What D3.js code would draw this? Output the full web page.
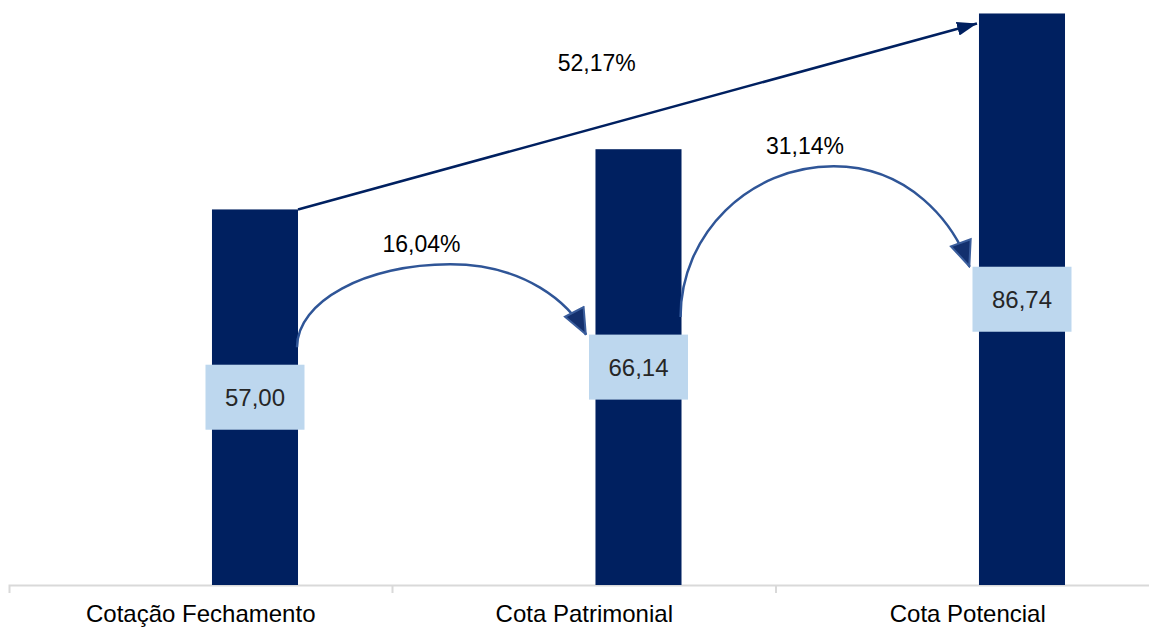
<!DOCTYPE html>
<html>
<head>
<meta charset="utf-8">
<script src="https://cdn.jsdelivr.net/npm/d3@7"></script>
<style>
body{margin:0;background:#fff;}
text{font-family:"Liberation Sans",Arial,sans-serif;}
</style>
</head>
<body>
<svg id="chart"></svg>
<script>
// dados
var categorias=["Cotação Fechamento","Cota Patrimonial","Cota Potencial"]
var valores=[57.00,66.14,86.74]
var rotulos=["57,00","66,14","86,74"]
// variacoes entre as barras
var varDe=[0,1,0]
var varPara=[1,2,2]
var varRotulo=["16,04%","31,14%","52,17%"]

var screen={width:1149,height:627}
var margins={left:9,right:-10.5,top:-8,bottom:42}
var graph={
    width:screen.width-margins.left-margins.right,
    height:screen.height-margins.top-margins.bottom}

var svg=d3.select("#chart")
    .attr("width",screen.width)
    .attr("height",screen.height)

var xScale=d3.scaleBand()
    .domain(categorias)
    .range([margins.left,margins.left+graph.width])
    .padding(0)
// serie vazia a esquerda, como no excel
var xSerie=d3.scaleBand()
    .domain(["vazio","valor"])
    .range([0,xScale.bandwidth()])
    .paddingInner(0.207)
    .paddingOuter(0.871)
var yScale=d3.scaleLinear()
    .domain([0,90])
    .range([margins.top+graph.height,margins.top])

var base=yScale(0)
var barLeft=function(i){return xScale(categorias[i])+xSerie("valor")}
var barRight=function(i){return barLeft(i)+xSerie.bandwidth()}
var barCenter=function(i){return barLeft(i)+xSerie.bandwidth()/2}
var barTop=function(i){return yScale(valores[i])}
var barMid=function(i){return (yScale(valores[i])+base)/2}
var box={w:99,h:65}

// marcadores
var defs=svg.append("defs")
defs.append("marker")
    .attr("id","setaReta")
    .attr("viewBox","0 0 20 14")
    .attr("refX",20).attr("refY",7)
    .attr("markerWidth",20).attr("markerHeight",14)
    .attr("markerUnits","userSpaceOnUse")
    .attr("orient","auto")
    .append("path")
    .attr("d","M0,0L20,7L0,14Z")
    .attr("fill","#002060")
defs.append("marker")
    .attr("id","setaCurva")
    .attr("viewBox","0 0 28 24")
    .attr("refX",27).attr("refY",12)
    .attr("markerWidth",28).attr("markerHeight",24)
    .attr("markerUnits","userSpaceOnUse")
    .attr("orient","auto")
    .append("path")
    .attr("d","M1.5,1.5L26.5,12L1.5,22.5Z")
    .attr("fill","#13306e")
    .attr("stroke","#3a5d9c")
    .attr("stroke-width",2)

// eixo
var xAxis=d3.axisBottom(xScale).tickSize(0).tickSizeOuter(8)
var eixo=svg.append("g")
    .attr("transform","translate(0,"+base+")")
    .call(xAxis)
eixo.select(".domain").attr("stroke","#d9d9d9").attr("stroke-width",2)
eixo.selectAll("text")
    .attr("y",37).attr("dy",0)
    .attr("font-size",24)
    .attr("fill","#000")
    .style("font-family","'Liberation Sans',Arial,sans-serif")
eixo.selectAll(".divisor")
    .data(categorias.slice(1))
    .enter()
    .append("line")
    .classed("divisor",true)
    .attr("x1",function(c){return xScale(c)})
    .attr("x2",function(c){return xScale(c)})
    .attr("y1",0).attr("y2",8)
    .attr("stroke","#d9d9d9").attr("stroke-width",2)

// barras
svg.append("g")
    .selectAll("rect")
    .data(valores)
    .enter()
    .append("rect")
    .attr("x",function(v,i){return barLeft(i)})
    .attr("y",function(v){return yScale(v)})
    .attr("width",xSerie.bandwidth())
    .attr("height",function(v){return base-yScale(v)})
    .attr("fill","#002060")

// seta reta (variacao total)
var s0=varDe[2],s1=varPara[2]
var p0={x:barRight(s0),y:barTop(s0)}
var p1={x:barLeft(s1)-2,y:barTop(s1)+10}
svg.append("line")
    .attr("x1",p0.x).attr("y1",p0.y)
    .attr("x2",p1.x).attr("y2",p1.y)
    .attr("stroke","#002060").attr("stroke-width",2.5)
    .attr("marker-end","url(#setaReta)")
var tx=p0.x+0.44*(p1.x-p0.x)
var ty=p0.y+0.44*(p1.y-p0.y)-57
svg.append("text")
    .text(varRotulo[2])
    .attr("x",tx).attr("y",ty)
    .attr("text-anchor","middle")
    .attr("font-size",23)
    .attr("fill","#000")

// setas curvas
var k=0.552
for(var j=0;j<2;j++){
    var a=varDe[j],b=varPara[j]
    var x0=barRight(a)-1,y0=barMid(a)-50
    var xe=barCenter(b)-box.w/2-3,ye=barMid(b)-box.h/2
    var yp=(barTop(a)+barTop(b))/2+85
    var xp=x0+0.53*(xe-x0)
    var d="M"+x0+","+y0+
        "C"+x0+","+(y0-k*(y0-yp))+" "+(xp-k*(xp-x0))+","+yp+" "+xp+","+yp+
        "C"+(xp+k*(xe-xp))+","+yp+" "+(xe-0.12*(xe-xp))+","+(yp+k*(ye-yp))+" "+xe+","+ye
    svg.append("path")
        .attr("d",d)
        .attr("fill","none")
        .attr("stroke","#2f5597").attr("stroke-width",2.5)
        .attr("marker-end","url(#setaCurva)")
    svg.append("text")
        .text(varRotulo[j])
        .attr("x",(x0+xe)/2-20)
        .attr("y",yp-12)
        .attr("text-anchor","middle")
        .attr("font-size",23)
        .attr("fill","#000")
}

// rotulos de valor
var rot=svg.append("g")
    .selectAll("g")
    .data(valores)
    .enter()
    .append("g")
rot.append("rect")
    .attr("x",function(v,i){return barCenter(i)-box.w/2})
    .attr("y",function(v,i){return barMid(i)-box.h/2})
    .attr("width",box.w).attr("height",box.h)
    .attr("fill","#bdd7ee")
rot.append("text")
    .text(function(v,i){return rotulos[i]})
    .attr("x",function(v,i){return barCenter(i)})
    .attr("y",function(v,i){return barMid(i)})
    .attr("dy","0.35em")
    .attr("text-anchor","middle")
    .attr("font-size",24)
    .attr("fill","#262626")
</script>
</body>
</html>
